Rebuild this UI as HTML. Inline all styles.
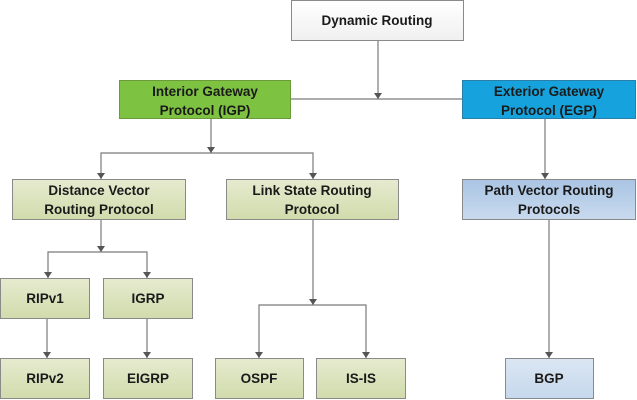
<!DOCTYPE html>
<html><head><meta charset="utf-8"><style>
html,body{margin:0;padding:0;background:#fff;width:637px;height:400px;overflow:hidden}
svg text{font-family:"Liberation Sans",sans-serif;font-weight:bold;font-size:13.5px;fill:#1a1a1a;text-anchor:middle}
</style></head><body>
<svg width="637" height="400" viewBox="0 0 637 400" xmlns="http://www.w3.org/2000/svg">
<defs>
<linearGradient id="ol" x1="0" y1="0" x2="0" y2="1"><stop offset="0" stop-color="#e6ebcf"/><stop offset="1" stop-color="#d1dbac"/></linearGradient>
<linearGradient id="bl" x1="0" y1="0" x2="0" y2="1"><stop offset="0" stop-color="#a9c4e3"/><stop offset="1" stop-color="#c9daee"/></linearGradient>
<linearGradient id="bl2" x1="0" y1="0" x2="0" y2="1"><stop offset="0" stop-color="#dbe6f3"/><stop offset="1" stop-color="#c6d8ec"/></linearGradient>
<linearGradient id="wh" x1="0" y1="0" x2="0" y2="1"><stop offset="0" stop-color="#ffffff"/><stop offset="1" stop-color="#f0f0f0"/></linearGradient>
<marker id="a" markerWidth="8" markerHeight="8" refX="4" refY="6" orient="auto" markerUnits="userSpaceOnUse"><path d="M1,1 L7,1 L4,6 Z" transform="rotate(-90 4 4)" fill="#555"/></marker>
</defs>
<g stroke="#7a7a7a" stroke-width="1.2" fill="none">
<line x1="378" y1="41" x2="378" y2="99"/>
<line x1="291" y1="99" x2="462" y2="99"/>
<line x1="211" y1="119" x2="211" y2="153"/>
<polyline points="101,179 101,153 313,153 313,179"/>
<line x1="545" y1="119" x2="545" y2="179"/>
<line x1="101" y1="220" x2="101" y2="252"/>
<polyline points="48,278 48,252 147,252 147,278"/>
<line x1="47" y1="318" x2="47" y2="358"/>
<line x1="147" y1="318" x2="147" y2="358"/>
<line x1="313" y1="220" x2="313" y2="305"/>
<polyline points="259,358 259,305 366,305 366,358"/>
<line x1="549" y1="220" x2="549" y2="358"/>
</g>
<g fill="#555">
<path d="M374,93 L382,93 L378,99 Z"/>
<path d="M207,147 L215,147 L211,153 Z"/>
<path d="M97,173 L105,173 L101,179 Z"/>
<path d="M309,173 L317,173 L313,179 Z"/>
<path d="M541,173 L549,173 L545,179 Z"/>
<path d="M97,246 L105,246 L101,252 Z"/>
<path d="M44,272 L52,272 L48,278 Z"/>
<path d="M143,272 L151,272 L147,278 Z"/>
<path d="M43,352 L51,352 L47,358 Z"/>
<path d="M143,352 L151,352 L147,358 Z"/>
<path d="M309,299 L317,299 L313,305 Z"/>
<path d="M255,352 L263,352 L259,358 Z"/>
<path d="M362,352 L370,352 L366,358 Z"/>
<path d="M545,352 L553,352 L549,358 Z"/>
</g>
<g stroke="#8a8a8a" stroke-width="1">
<rect x="291.5" y="0.5" width="172" height="40" fill="url(#wh)"/>
<rect x="119.5" y="80.5" width="171" height="38" fill="#7ec242" stroke="#6a9a3a"/>
<rect x="462.5" y="80.5" width="173" height="38" fill="#16a3dd" stroke="#2a7fa8"/>
<rect x="12.5" y="179.5" width="173" height="40" fill="url(#ol)"/>
<rect x="226.5" y="179.5" width="172" height="40" fill="url(#ol)"/>
<rect x="462.5" y="179.5" width="173" height="40" fill="url(#bl)"/>
<rect x="0.5" y="278.5" width="89" height="40" fill="url(#ol)"/>
<rect x="103.5" y="278.5" width="89" height="40" fill="url(#ol)"/>
<rect x="0.5" y="358.5" width="89" height="40" fill="url(#ol)"/>
<rect x="103.5" y="358.5" width="89" height="40" fill="url(#ol)"/>
<rect x="215.5" y="358.5" width="88" height="40" fill="url(#ol)"/>
<rect x="316.5" y="358.5" width="89" height="40" fill="url(#ol)"/>
<rect x="505.5" y="358.5" width="88" height="40" fill="url(#bl2)"/>
</g>
<text x="377" y="25" font-size="14">Dynamic Routing</text>
<text x="205" y="96">Interior Gateway</text>
<text x="205" y="115">Protocol (IGP)</text>
<text x="549" y="96">Exterior Gateway</text>
<text x="549" y="115">Protocol (EGP)</text>
<text x="99" y="195">Distance Vector</text>
<text x="99" y="214">Routing Protocol</text>
<text x="312" y="195">Link State Routing</text>
<text x="312" y="214">Protocol</text>
<text x="549" y="195">Path Vector Routing</text>
<text x="549" y="214">Protocols</text>
<text x="45" y="303">RIPv1</text>
<text x="148" y="303">IGRP</text>
<text x="45" y="383">RIPv2</text>
<text x="148" y="383">EIGRP</text>
<text x="259" y="383">OSPF</text>
<text x="361" y="383">IS-IS</text>
<text x="549" y="383">BGP</text>
</svg>
</body></html>
